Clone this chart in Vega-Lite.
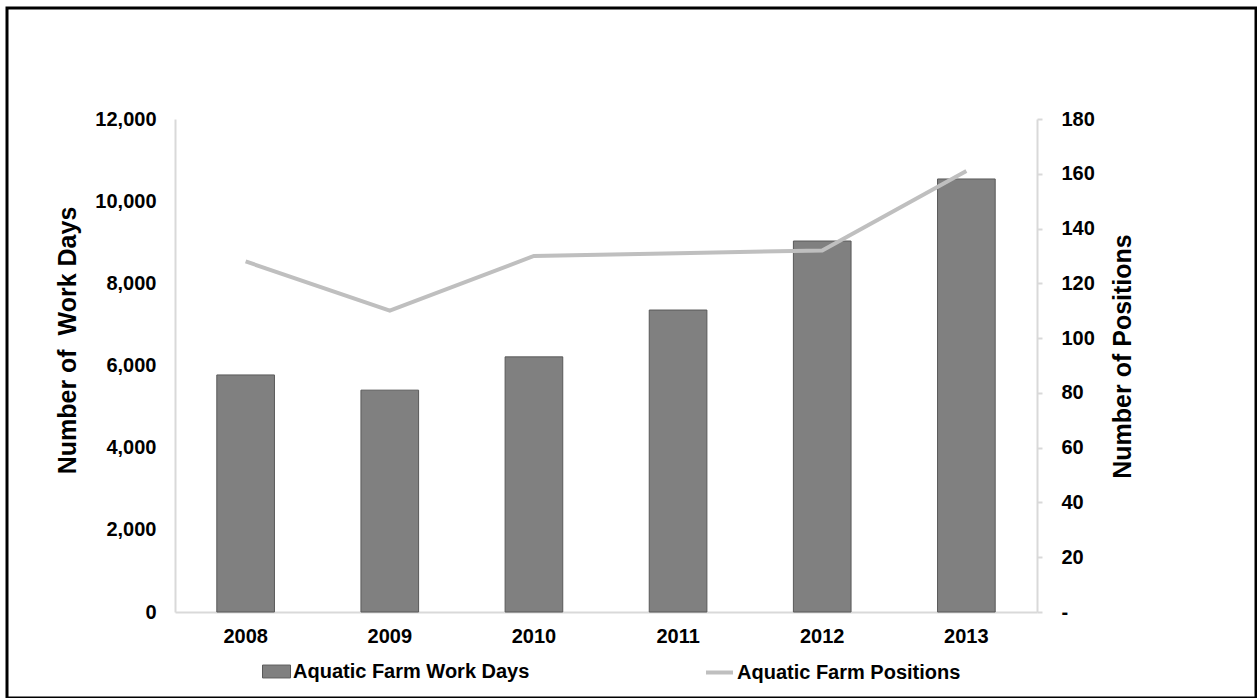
{
  "$schema": "https://vega.github.io/schema/vega-lite/v6.json",
  "autosize": "none",
  "width": 1249,
  "height": 690,
  "padding": {"left": 7, "top": 8, "right": 1, "bottom": 0},
  "background": "white",
  "config": {
    "font": "Liberation Sans",
    "view": {"stroke": "#000000", "strokeWidth": 3},
    "axis": {"grid": false, "labelFont": "Liberation Sans", "labelFontWeight": "bold", "labelFontSize": 20, "labelColor": "#000000", "titleFont": "Liberation Sans", "titleFontWeight": "bold", "titleFontSize": 25, "titleColor": "#000000", "domainColor": "#d9d9d9", "domainWidth": 2, "tickColor": "#d9d9d9", "tickWidth": 2},
    "legend": {"labelFont": "Liberation Sans", "labelFontWeight": "bold", "labelFontSize": 20, "labelColor": "#000000", "padding": 0, "labelLimit": 500}
  },
  "data": {
    "values": [
      {"year": "2008", "workdays": 5770, "positions": 128},
      {"year": "2009", "workdays": 5400, "positions": 110},
      {"year": "2010", "workdays": 6210, "positions": 130},
      {"year": "2011", "workdays": 7350, "positions": 131},
      {"year": "2012", "workdays": 9030, "positions": 132},
      {"year": "2013", "workdays": 10540, "positions": 161}
    ]
  },
  "encoding": {
    "x": {
      "field": "year", "type": "ordinal",
      "scale": {"range": [168, 1030], "paddingInner": 0.6, "paddingOuter": 0.29},
      "axis": {"title": null, "labelAngle": 0, "ticks": false, "labelPadding": 14, "offset": -86}
    }
  },
  "layer": [
    {
      "mark": {"type": "bar", "stroke": "#595959", "strokeWidth": 1},
      "encoding": {
        "y": {
          "field": "workdays", "type": "quantitative",
          "scale": {"domain": [0, 12000], "range": [604, 111]},
          "axis": {"title": "Number of\u00a0 Work Days", "values": [0, 2000, 4000, 6000, 8000, 10000, 12000], "format": ",.0f", "ticks": false, "labelPadding": 19, "titlePadding": 14, "titleY": 332, "offset": -168}
        },
        "fill": {
          "datum": "Aquatic Farm Work Days",
          "scale": {"range": ["#808080"]},
          "legend": {"title": null, "orient": "none", "legendX": 255, "legendY": 649, "symbolType": "M-1,-0.46H1V0.46H-1Z", "symbolSize": 784, "symbolStrokeColor": "#595959", "symbolStrokeWidth": 1, "labelOffset": 2}
        }
      }
    },
    {
      "mark": {"type": "line", "strokeWidth": 4},
      "encoding": {
        "y": {
          "field": "positions", "type": "quantitative",
          "scale": {"domain": [0, 180], "range": [604, 111]},
          "axis": {"title": "Number of Positions", "orient": "right", "titleAngle": -90, "titleBaseline": "middle", "titleX": 85, "titleY": 348, "values": [0, 20, 40, 60, 80, 100, 120, 140, 160, 180], "labelExpr": "datum.value == 0 ? '-' : datum.label", "tickSize": 5, "labelPadding": 19, "offset": -219}
        },
        "stroke": {
          "datum": "Aquatic Farm Positions",
          "scale": {"range": ["#bfbfbf"]},
          "legend": {"title": null, "orient": "none", "legendX": 697, "legendY": 649, "symbolType": "stroke", "symbolSize": 729, "symbolStrokeWidth": 4, "labelOffset": 2}
        }
      }
    }
  ],
  "resolve": {"scale": {"y": "independent"}}
}
